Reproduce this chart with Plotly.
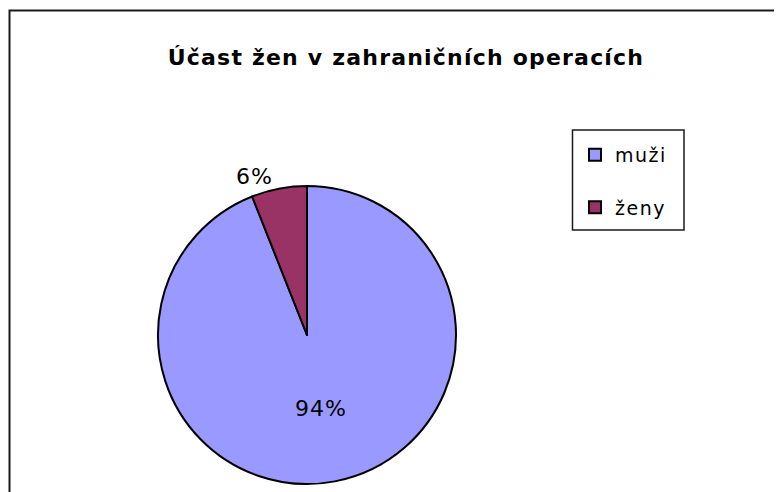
import plotly.graph_objects as go

# data
labels = ["muži", "ženy"]
values = [94, 6]
colors = ["#9999FF", "#993366"]
title_text = "Účast žen v zahraničních operacích"

FONT = "DejaVu Sans, Liberation Sans, sans-serif"
# the page body has an 8px margin, so the figure is a bit smaller than the window
OFF = 8
W, H = 782 - OFF, 492 - OFF


def px(x):
    return (x - OFF) / W


def py(y):
    return 1 - (y - OFF) / H


def spaced(s, ls):
    # widen letters a bit like the old Excel rendering
    return f'<span style="letter-spacing:{ls}px">{s}</span>'


# second legend entry gets an empty first line so the rows sit far apart
legend_names = [spaced(labels[0], 1.5), "<br>" + spaced(labels[1], 1.5)]

fig = go.Figure()
fig.add_trace(go.Pie(
    labels=legend_names,
    values=values,
    sort=False,
    direction="clockwise",
    rotation=0,
    marker=dict(colors=colors, line=dict(color="black", width=2)),
    texttemplate=spaced("%{percent:.0%}", 1),
    textposition=["inside", "outside"],
    insidetextorientation="horizontal",
    textfont=dict(family=FONT, size=22, color="black"),
    domain=dict(x=[px(157), px(457)], y=[py(484), py(186)]),
    hoverinfo="percent",
))

# chart area frame (right and bottom edges run off the picture)
fig.add_shape(type="rect", xref="paper", yref="paper",
              x0=px(9.5), x1=1.2, y0=-0.2, y1=py(10.5),
              line=dict(color="#1a1a1a", width=2), layer="below")
# legend frame
fig.add_shape(type="rect", xref="paper", yref="paper",
              x0=px(572.5), x1=px(684), y0=py(230), y1=py(130),
              line=dict(color="#1a1a1a", width=1.5), layer="below")

fig.update_layout(
    width=W, height=H,
    margin=dict(l=0, r=0, t=0, b=0),
    paper_bgcolor="white",
    plot_bgcolor="white",
    font=dict(family=FONT, color="black"),
    title=dict(
        text=spaced(title_text, 1.2),
        x=px(406), xanchor="center", xref="paper",
        y=py(57), yanchor="middle", yref="paper",
        font=dict(family=FONT, size=22, color="black", weight="bold"),
    ),
    showlegend=True,
    legend=dict(
        x=px(575), xanchor="left",
        y=py(136), yanchor="top",
        borderwidth=0,
        bgcolor="rgba(0,0,0,0)",
        font=dict(family=FONT, size=19, color="black"),
        valign="bottom",
        itemwidth=30,
    ),
)

fig.write_html("out.html")
